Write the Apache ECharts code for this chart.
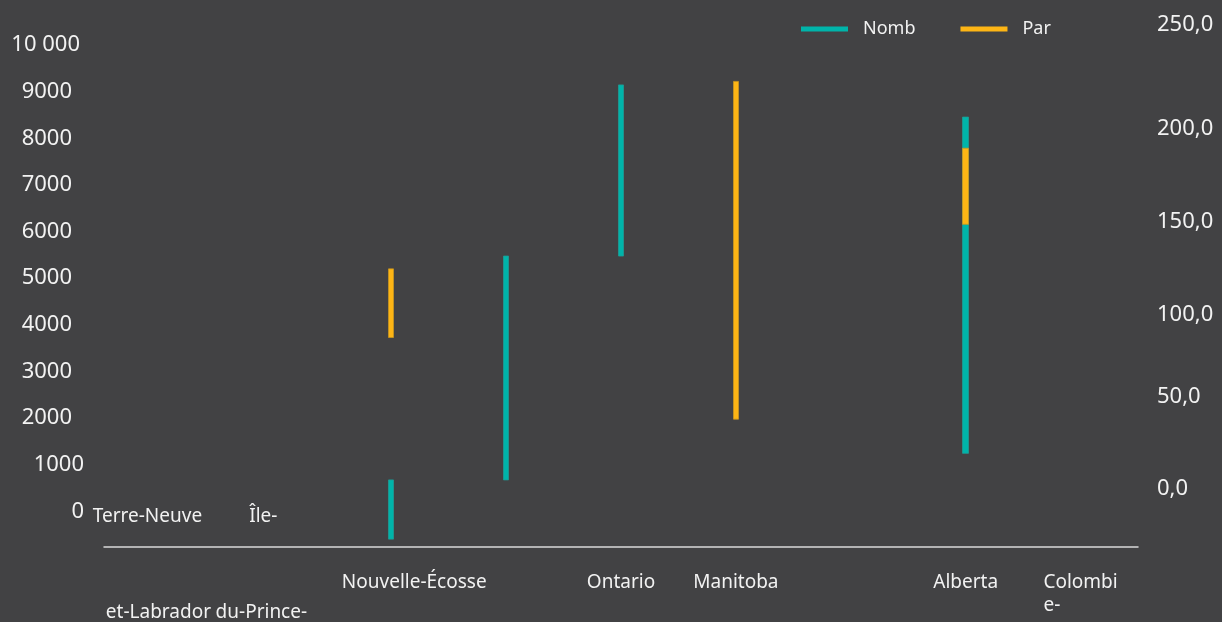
<!DOCTYPE html>
<html>
<head>
<meta charset="utf-8">
<script src="https://cdn.jsdelivr.net/npm/echarts@6/dist/echarts.min.js"></script>
<style>
  html, body { margin: 0; padding: 0; background: #424244; }
  #chart { width: 1222px; height: 622px; }
</style>
</head>
<body>
<div id="chart"></div>
<script>
// provinces (9 slots on the category axis)
var categories = ['Terre-Neuve-et-Labrador', 'Île-du-Prince-Édouard', 'Nouvelle-Écosse', 'Nouveau-Brunswick',
    'Ontario', 'Manitoba', 'Saskatchewan', 'Alberta', 'Colombie-Britannique'];

// tick labels as they show up on the picture (three rows)
var topLabels = ['Terre-Neuve', 'Île-', '', '', '', '', '', '', ''];
var midLabels = ['', '', 'Nouvelle-Écosse', '', 'Ontario', 'Manitoba', '', 'Alberta', 'Colombi\ne-'];
var bottomLabels = ['et-Labrador', 'du-Prince-', '', '', '', '', '', '', ''];

var leftTicks = ['0', '1000', '2000', '3000', '4000', '5000', '6000', '7000', '8000', '9000', '10 000'];
var rightTicks = ['0,0', '50,0', '100,0', '150,0', '200,0', '250,0'];

// Nomb (left axis) : low / high of each floating bar
var nombLow  = [null, null, -660, 610, 5410, null, null, 1180, null];
var nombHigh = [null, null, 610, 5410, 9080, null, null, 8390, null];
// Par (right axis)
var parLow  = [null, null, 80, null, null, 36, null, 141, null];
var parHigh = [null, null, 117, null, null, 218, null, 182, null];

var TEAL = '#00b4aa';
var ORANGE = '#fdb515';
var FONT = 'Noto Sans';
var TXT = '#f2f2f2';

function toRange(low, high) {
    return low.map(function (v, i) {
        if (v === null) return '-';
        return [v, high[i], v, high[i]];
    });
}

var chart = echarts.init(document.getElementById('chart'));

var gridLeft = 104, gridWidth = 1034;

function rowAxis(labels, extra) {
    var ax = {
        type: 'category',
        gridIndex: 0,
        data: categories,
        position: 'bottom',
        offset: -8,
        axisLine: {show: false, onZero: false},
        axisTick: {show: false},
        axisLabel: {
            interval: 0,
            color: TXT,
            fontFamily: FONT,
            fontSize: 19,
            formatter: function (v, i) { return labels[i]; }
        }
    };
    for (var k in extra) ax.axisLabel[k] = extra[k];
    return ax;
}

function txt(extra) {
    var s = {fontFamily: FONT, fontSize: 22, color: TXT};
    for (var k in extra) s[k] = extra[k];
    return s;
}

var option = {
    backgroundColor: '#424244',
    animation: false,
    legend: {
        left: 796,
        top: 15,
        itemWidth: 47,
        itemHeight: 5,
        itemGap: 45,
        textStyle: {color: TXT, fontFamily: FONT, fontSize: 18, padding: [0, 0, 0, 10]},
        data: [
            {name: 'Nomb', icon: 'rect', itemStyle: {color: TEAL, borderWidth: 0}},
            {name: 'Par', icon: 'rect', itemStyle: {color: ORANGE, borderWidth: 0}}
        ]
    },
    grid: [
        {left: gridLeft, width: gridWidth, top: 42, height: 514},
        {left: gridLeft, width: gridWidth, top: 22, height: 464}
    ],
    xAxis: [
        {
            type: 'category',
            gridIndex: 0,
            data: categories,
            position: 'bottom',
            offset: -8,
            axisLine: {show: true, onZero: false, lineStyle: {color: '#d9d9d9', width: 1.5}},
            axisTick: {show: false},
            axisLabel: {
                interval: 0,
                margin: 24,
                color: TXT,
                fontFamily: FONT,
                fontSize: 19,
                lineHeight: 23,
                formatter: function (v, i) {
                    var t = midLabels[i];
                    if (i === 2) return '{n|' + t + '}';
                    if (t.indexOf('\n') >= 0) {
                        return t.split('\n').map(function (s) { return '{l|' + s + '}'; }).join('\n');
                    }
                    return t;
                },
                rich: {
                    n: {padding: [0, 0, 0, 46], fontFamily: FONT, fontSize: 19, color: TXT, lineHeight: 23},
                    l: {align: 'left', fontFamily: FONT, fontSize: 19, color: TXT, lineHeight: 23}
                }
            }
        },
        rowAxis(topLabels, {
            inside: true,
            margin: 21,
            formatter: function (v, i) {
                var t = topLabels[i];
                return t ? '{t' + i + '|' + t + '}' : '';
            },
            rich: {
                t0: {padding: [0, 28, 0, 0], fontFamily: FONT, fontSize: 19, color: TXT},
                t1: {padding: [0, 26, 0, 0], fontFamily: FONT, fontSize: 19, color: TXT}
            }
        }),
        rowAxis(bottomLabels, {
            margin: 56,
            formatter: function (v, i) {
                var t = bottomLabels[i];
                return t ? '{b' + i + '|' + t + '}' : '';
            },
            rich: {
                b0: {padding: [0, 6, 0, 0], fontFamily: FONT, fontSize: 19, color: TXT},
                b1: {padding: [0, 30, 0, 0], fontFamily: FONT, fontSize: 19, color: TXT}
            }
        }),
        {
            type: 'category',
            gridIndex: 1,
            data: categories,
            show: false
        }
    ],
    yAxis: [
        {
            type: 'value',
            gridIndex: 0,
            min: -1000,
            max: 10000,
            interval: 1000,
            splitLine: {show: false},
            axisLine: {show: false},
            axisTick: {show: false},
            axisLabel: {
                margin: 20,
                color: TXT,
                fontFamily: FONT,
                fontSize: 22,
                formatter: function (v) {
                    if (v < 0) return '';
                    var i = Math.round(v / 1000);
                    // labels are not quite right-aligned on the reference
                    if (i <= 1) return '{a|' + leftTicks[i] + '}';
                    if (i === 10) return '{c|' + leftTicks[i] + '}';
                    return '{b|' + leftTicks[i] + '}';
                },
                rich: {
                    a: txt({padding: [6, 0, 0, 0]}),
                    b: txt({padding: [6, 12, 0, 0]}),
                    c: txt({padding: [6, 4, 0, 0]})
                }
            }
        },
        {
            type: 'value',
            gridIndex: 1,
            position: 'right',
            min: 0,
            max: 250,
            interval: 50,
            splitLine: {show: false},
            axisLine: {show: false},
            axisTick: {show: false},
            axisLabel: {
                margin: 19,
                color: TXT,
                fontFamily: FONT,
                fontSize: 22,
                formatter: function (v) {
                    var i = Math.round(v / 50);
                    var t = rightTicks[i];
                    // the middle labels sit a little lower on the reference
                    if (i >= 2 && i <= 4) return '{d|' + t + '}';
                    if (i === 1) return '{s|' + t + '}';
                    return '{u|' + t + '}';
                },
                rich: {
                    d: txt({padding: [28, 0, 0, 0]}),
                    s: txt({padding: [8, 0, 0, 0]}),
                    u: txt({padding: [5, 0, 0, 0]})
                }
            }
        }
    ],
    series: [
        {
            name: 'Nomb',
            type: 'candlestick',
            xAxisIndex: 0,
            yAxisIndex: 0,
            barWidth: 6,
            itemStyle: {color: TEAL, color0: TEAL, borderColor: '#1d9c95', borderColor0: '#1d9c95', borderWidth: 0.8},
            data: toRange(nombLow, nombHigh)
        },
        {
            name: 'Par',
            type: 'candlestick',
            xAxisIndex: 3,
            yAxisIndex: 1,
            barWidth: 6,
            itemStyle: {color: ORANGE, color0: ORANGE, borderColor: '#c99520', borderColor0: '#c99520', borderWidth: 0.8},
            data: toRange(parLow, parHigh)
        }
    ]
};

chart.setOption(option);
</script>
</body>
</html>
